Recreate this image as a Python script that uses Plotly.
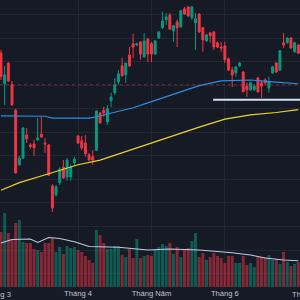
import plotly.graph_objects as go

# ---- data ----
bar_idx = list(range(82))
open_ = [29.18, 28.53, 28.97, 28.51, 27.97, 26.81, 26.95, 27.44, 27.23, 27.25,
         27.34, 27.46, 27.27, 27.23, 26.36, 26.17, 26.43, 26.76, 26.55, 26.55,
         26.85, 27.42, 27.32, 27.27, 27.02, 26.98, 27.12, 27.91, 27.97, 27.72,
         28.17, 28.34, 28.57, 28.91, 28.72, 29.14, 29.38, 29.35, 29.42, 29.10,
         29.48, 29.38, 29.16, 29.50, 29.72, 29.89, 29.99, 29.65, 29.84, 29.74,
         30.12, 30.16, 29.93, 29.82, 30.01, 29.72, 29.44, 29.61, 29.63, 29.40,
         29.31, 29.33, 29.06, 28.82, 28.76, 28.91, 28.78, 28.48, 28.40, 28.40,
         28.65, 28.55, 28.61, 28.44, 28.76, 28.97, 28.82, 29.40, 29.40, 29.50,
         29.21, 29.35]
high = [29.25, 28.91, 28.99, 28.59, 28.00, 27.00, 27.61, 27.59, 27.27, 27.34,
        27.80, 27.83, 27.38, 27.25, 26.40, 26.38, 26.76, 26.91, 26.95, 26.81,
        26.98, 27.44, 27.42, 27.44, 27.06, 27.12, 27.97, 27.93, 28.04, 28.08,
        28.34, 28.65, 28.82, 29.08, 28.97, 29.31, 29.59, 29.40, 29.42, 29.61,
        29.50, 29.42, 29.46, 29.65, 30.06, 30.03, 30.03, 29.78, 29.89, 30.10,
        30.16, 30.18, 30.18, 30.03, 30.03, 29.74, 29.59, 29.63, 29.65, 29.42,
        29.42, 29.42, 29.08, 28.89, 28.91, 28.99, 28.80, 28.55, 28.57, 28.51,
        28.68, 28.61, 28.65, 28.68, 28.91, 28.99, 29.25, 29.61, 29.52, 29.52,
        29.42, 29.38]
low = [28.61, 28.08, 28.57, 28.06, 26.62, 26.79, 26.93, 27.27, 27.15, 27.00,
       27.32, 27.38, 27.06, 26.57, 25.81, 26.13, 26.38, 26.51, 26.47, 26.47,
       26.81, 27.25, 27.12, 26.98, 26.89, 26.81, 27.10, 27.68, 27.83, 27.66,
       28.04, 28.29, 28.51, 28.68, 28.55, 28.89, 29.08, 29.33, 29.04, 29.08,
       28.99, 28.99, 29.14, 29.48, 29.69, 29.78, 29.67, 29.42, 29.31, 29.72,
       29.99, 29.95, 29.89, 29.25, 29.61, 29.21, 29.42, 29.40, 29.25, 29.29,
       29.21, 28.97, 28.80, 28.46, 28.68, 28.89, 28.36, 28.25, 28.38, 28.38,
       28.34, 28.23, 28.51, 28.34, 28.74, 28.76, 28.80, 29.29, 29.38, 29.27,
       29.18, 29.16]
close = [28.68, 28.72, 28.59, 28.08, 26.64, 26.95, 27.59, 27.36, 27.20, 27.17,
         27.38, 27.40, 27.25, 26.59, 25.89, 26.34, 26.72, 26.53, 26.91, 26.76,
         26.93, 27.27, 27.17, 27.04, 26.91, 26.91, 27.95, 27.70, 27.91, 28.00,
         28.25, 28.51, 28.74, 28.70, 28.97, 28.91, 29.31, 29.38, 29.16, 29.44,
         29.16, 29.16, 29.44, 29.63, 29.86, 29.95, 29.69, 29.76, 29.72, 30.08,
         30.01, 29.97, 30.16, 29.91, 29.63, 29.46, 29.57, 29.55, 29.31, 29.31,
         29.29, 29.04, 28.82, 28.72, 28.89, 28.97, 28.36, 28.40, 28.55, 28.48,
         28.36, 28.48, 28.55, 28.57, 28.89, 28.78, 29.23, 29.35, 29.50, 29.29,
         29.40, 29.18]
volume = [2750, 3700, 2700, 2350, 3200, 3350, 2250, 2200, 2200, 1900,
          1850, 1750, 2200, 2200, 2450, 1750, 2000, 1650, 2050, 1950,
          2000, 1850, 1750, 1550, 1350, 1200, 2850, 2600, 2200, 1900,
          1900, 2050, 2050, 1600, 1500, 1900, 1450, 2400, 1450, 1550,
          1600, 1550, 1850, 2000, 2150, 2050, 2200, 1650, 2000, 1500,
          1850, 1950, 2300, 2700, 1500, 1700, 1350, 1500, 1700, 1550,
          1450, 1200, 1550, 1550, 1200, 1200, 1550, 1100, 1200, 1000,
          1500, 1500, 1500, 1600, 1350, 1400, 1150, 1750, 1250, 1050,
          1150, 1250]

ma_blue_idx = [0, 12, 14, 24, 26, 29, 36, 41, 47, 54, 60, 68, 74, 81]
ma_blue = [27.85, 27.84, 27.80, 27.80, 27.83, 27.89, 28.02, 28.15, 28.31, 28.49,
           28.59, 28.61, 28.57, 28.53]
ma_yellow_idx = [0, 5, 13, 21, 27, 41, 54, 61, 68, 75, 81]
ma_yellow = [26.27, 26.43, 26.62, 26.81, 26.91, 27.28, 27.61, 27.78, 27.87, 27.92, 27.98]
vol_ma_idx = [0, 3, 8, 10, 13, 16, 20, 24, 32, 40, 46, 54, 63, 68, 72, 77, 81]
vol_ma = [2200, 2375, 2400, 2225, 2475, 2425, 2265, 2025, 1985, 1850, 1900, 1850,
          1715, 1600, 1450, 1350, 1315]

month_idx = [-1, 21, 41, 61, 83]
month_labels = ["Tháng 3", "Tháng 4", "Tháng Năm", "Tháng 6", "Tháng 7"]

resistance_level = 28.51
support_level = 28.19
support_start_idx = 57.8

# ---- styling ----
BG = "#161a25"
GRID = "#222631"
UP = "#089981"
DOWN = "#f23645"
UP_VOL = "rgba(8,153,129,0.5)"
DOWN_VOL = "rgba(242,54,69,0.5)"
TXT = "#c3c6ce"

x_range = [-0.27, 81.47]
y_range = [24.215, 30.308]
vol_range = [0, 14350]

vol_colors = [UP_VOL if c >= o else DOWN_VOL for o, c in zip(open_, close)]

fig = go.Figure()

fig.add_trace(go.Candlestick(
    x=bar_idx, open=open_, high=high, low=low, close=close,
    increasing=dict(line=dict(color=UP, width=1), fillcolor=UP),
    decreasing=dict(line=dict(color=DOWN, width=1), fillcolor=DOWN),
    whiskerwidth=0, yaxis="y", showlegend=False,
))
fig.add_trace(go.Scatter(x=ma_yellow_idx, y=ma_yellow, mode="lines",
                         line=dict(color="#e8d42c", width=1.2), showlegend=False))
fig.add_trace(go.Scatter(x=ma_blue_idx, y=ma_blue, mode="lines",
                         line=dict(color="#2a8ee8", width=1.2), showlegend=False))
fig.add_trace(go.Bar(x=bar_idx, y=volume, marker=dict(color=vol_colors, line=dict(width=0)),
                     yaxis="y2", showlegend=False))
fig.add_trace(go.Scatter(x=vol_ma_idx, y=vol_ma, mode="lines", yaxis="y2",
                         line=dict(color="#b9cbe6", width=1.1), showlegend=False))

fig.add_shape(type="line", xref="paper", x0=0, x1=1, yref="y",
              y0=resistance_level, y1=resistance_level,
              line=dict(color="rgba(242,54,69,0.42)", width=1, dash="3px,3px"))
fig.add_shape(type="line", xref="x", x0=support_start_idx, x1=x_range[1] + 1, yref="y",
              y0=support_level, y1=support_level,
              line=dict(color="#d3e0f7", width=2))

in_vals, in_text = [], []
for i, lab in zip(month_idx, month_labels):
    if x_range[0] <= i <= x_range[1]:
        in_vals.append(i)
        in_text.append(lab)
    else:
        fig.add_annotation(
            x=(i - x_range[0]) / (x_range[1] - x_range[0]), xref="paper",
            y=0, yref="paper", yanchor="top", xanchor="center",
            text=lab, showarrow=False, yshift=-1,
            font=dict(family="Liberation Sans, Arial", size=7.6, color=TXT),
        )

fig.update_layout(
    width=300, height=300,
    margin=dict(l=0, r=0, t=0, b=13),
    paper_bgcolor=BG, plot_bgcolor=BG,
    boxgap=0.25, bargap=0.18,
    xaxis=dict(range=x_range, rangeslider=dict(visible=False),
               tickmode="array", tickvals=in_vals, ticktext=in_text,
               showgrid=True, gridcolor=GRID, gridwidth=1, zeroline=False,
               showline=False, ticks="",
               tickfont=dict(family="Liberation Sans, Arial", size=7.6, color=TXT)),
    yaxis=dict(range=y_range, dtick=0.5, tick0=0, showgrid=True, gridcolor=GRID,
               showticklabels=False, zeroline=False, showline=False, fixedrange=True),
    yaxis2=dict(range=vol_range, overlaying="y", showgrid=False, showticklabels=False,
                zeroline=False, showline=False),
    showlegend=False,
)

fig.write_html("out.html")
